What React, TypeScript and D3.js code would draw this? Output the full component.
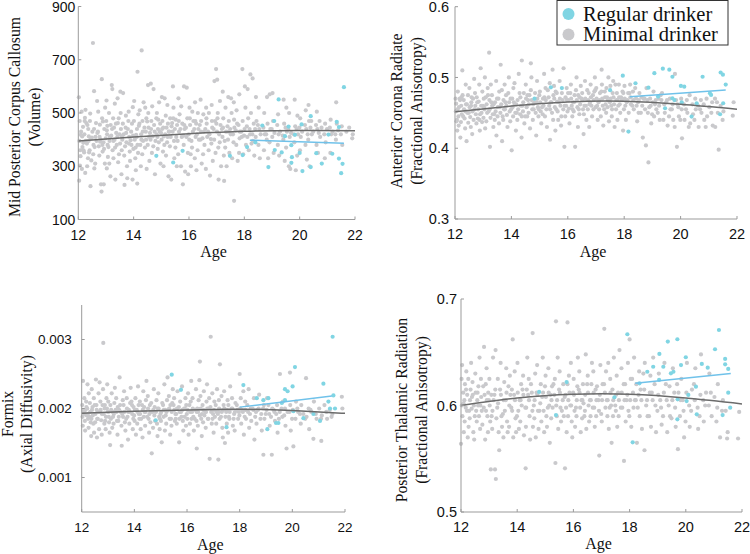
import React from 'react';
import * as d3 from 'd3';

type Pt = [number, number];

const AGE_TICKS = [12, 14, 16, 18, 20, 22];
const AGE_DOMAIN: Pt = [12, 22];

// ---------- Panel 1: Mid Posterior Corpus Callosum (Volume) ----------
const ccTicks = [100, 300, 500, 700, 900];
const ccMinimal: Pt[] = [
[12.02,559],[12.03,246],[12.05,470],[12.04,395],[12.08,338],[12.1,430],[12.06,302],[12.12,505],[12.14,412],[12.15,372],[12.17,448],[12.13,290],[12.19,360],[12.22,420],[12.24,482],[12.21,352],[12.25,275],[12.27,395],[12.26,512],[12.31,385],[12.33,455],[12.35,330],[12.32,300],[12.36,440],[12.38,412],[12.42,470],[12.41,360],[12.44,225],[12.46,405],[12.43,498],[12.47,322],[12.53,763],[12.51,430],[12.55,380],[12.57,582],[12.54,345],[12.58,292],[12.62,410],[12.64,462],[12.61,310],[12.66,395],[12.68,545],[12.72,505],[12.74,375],[12.71,430],[12.76,340],[12.78,456],[12.85,627],[12.82,232],[12.84,205],[12.81,400],[12.86,480],[12.88,355],[12.92,232],[12.94,440],[12.91,390],[12.96,310],[12.97,520],[12.93,365],[13.02,547],[13.04,420],[13.01,470],[13.06,380],[13.03,292],[13.07,335],[13.05,452],[13.12,310],[13.14,410],[13.11,500],[13.16,262],[13.13,395],[13.21,605],[13.23,590],[13.22,440],[13.24,360],[13.26,480],[13.27,330],[13.32,535],[13.31,400],[13.34,250],[13.36,460],[13.33,370],[13.37,425],[13.42,555],[13.44,315],[13.41,410],[13.46,480],[13.47,345],[13.52,580],[13.54,440],[13.51,385],[13.56,270],[13.53,500],[13.57,360],[13.62,575],[13.64,420],[13.66,340],[13.61,460],[13.67,230],[13.72,490],[13.74,390],[13.76,300],[13.71,445],[13.77,255],[13.82,505],[13.84,410],[13.86,355],[13.81,470],[13.87,320],[13.92,380],[13.94,460],[13.96,250],[13.91,430],[13.97,522],[14.02,545],[14.04,400],[14.06,330],[14.01,470],[14.07,370],[14.08,285],[14.14,655],[14.12,440],[14.16,350],[14.11,410],[14.17,495],[14.13,235],[14.22,510],[14.24,380],[14.21,460],[14.26,300],[14.27,420],[14.29,735],[14.32,470],[14.34,395],[14.31,345],[14.36,540],[14.42,520],[14.44,430],[14.41,370],[14.46,480],[14.47,290],[14.52,605],[14.54,445],[14.51,380],[14.56,410],[14.57,320],[14.53,500],[14.62,610],[14.64,470],[14.61,400],[14.66,350],[14.67,525],[14.72,590],[14.74,455],[14.71,375],[14.76,430],[14.77,270],[14.84,500],[14.86,410],[14.82,480],[14.87,365],[14.88,440],[14.92,540],[14.94,430],[14.91,390],[14.96,460],[14.97,310],[15.02,560],[15.04,470],[15.01,400],[15.06,355],[15.07,445],[15.08,300],[15.12,555],[15.14,420],[15.11,380],[15.16,490],[15.17,340],[15.22,530],[15.24,460],[15.21,390],[15.26,262],[15.27,430],[15.32,480],[15.34,410],[15.36,250],[15.31,375],[15.37,450],[15.42,600],[15.44,520],[15.41,430],[15.46,395],[15.47,330],[15.52,475],[15.54,410],[15.51,370],[15.56,300],[15.57,455],[15.62,555],[15.64,430],[15.61,345],[15.66,495],[15.72,525],[15.74,410],[15.71,300],[15.76,460],[15.78,232],[15.82,600],[15.84,440],[15.81,380],[15.86,280],[15.92,595],[15.94,480],[15.91,410],[15.96,350],[15.97,270],[16.02,520],[16.04,455],[16.01,400],[16.06,345],[16.07,300],[16.12,505],[16.14,430],[16.11,370],[16.16,470],[16.22,540],[16.24,410],[16.21,330],[16.26,460],[16.27,285],[16.32,500],[16.34,440],[16.31,360],[16.36,400],[16.42,550],[16.44,470],[16.41,400],[16.46,310],[16.52,495],[16.54,430],[16.51,345],[16.56,380],[16.62,520],[16.64,460],[16.61,290],[16.66,410],[16.98,665],[16.72,500],[16.74,420],[16.71,360],[16.76,265],[16.82,530],[16.84,445],[16.81,385],[16.86,320],[16.92,620],[16.94,470],[16.91,400],[16.96,350],[17.02,625],[17.04,500],[17.01,430],[17.06,370],[17.07,250],[17.12,545],[17.14,455],[17.11,390],[17.16,300],[17.22,580],[17.24,480],[17.21,410],[17.26,340],[17.27,245],[17.32,520],[17.34,430],[17.31,370],[17.36,300],[17.42,560],[17.44,470],[17.41,400],[17.46,350],[17.52,555],[17.54,500],[17.51,420],[17.56,330],[17.62,540],[17.64,445],[17.61,390],[17.63,170],[17.72,510],[17.74,460],[17.71,380],[17.76,320],[17.82,570],[17.84,430],[17.81,350],[17.93,665],[17.94,470],[17.91,410],[17.96,345],[18.02,600],[18.04,520],[18.01,440],[18.06,380],[18.12,590],[18.14,480],[18.11,410],[18.16,360],[18.22,645],[18.24,500],[18.21,420],[18.26,385],[18.3,630],[18.34,460],[18.31,395],[18.36,340],[18.42,560],[18.44,470],[18.41,410],[18.52,520],[18.54,440],[18.51,380],[18.56,330],[18.72,500],[18.74,420],[18.71,360],[18.82,560],[18.84,460],[18.81,400],[18.86,330],[18.92,570],[18.94,440],[18.91,390],[19.02,575],[19.04,470],[19.01,410],[19.06,350],[19.22,495],[19.24,420],[19.21,380],[19.26,340],[19.42,550],[19.44,460],[19.41,400],[19.46,320],[19.52,520],[19.54,430],[19.51,370],[19.62,500],[19.64,410],[19.61,300],[19.66,290],[19.82,550],[19.84,450],[19.81,390],[19.86,285],[19.92,490],[19.94,420],[19.91,340],[20.02,480],[20.04,410],[20.01,360],[20.22,510],[20.24,440],[20.21,380],[20.26,325],[20.32,530],[20.34,470],[20.31,400],[20.36,300],[20.42,470],[20.44,420],[20.62,505],[20.64,440],[20.61,380],[20.66,350],[20.72,470],[20.74,410],[20.92,460],[20.94,390],[20.91,330],[21.12,475],[21.14,420],[21.11,350],[21.32,540],[21.34,460],[21.31,400],[21.52,450],[21.54,380],[21.92,420],[21.9,405]
];
const ccMinimalDense: Pt[] = [
[12.09,418],[12.18,388],[12.29,462],[12.39,352],[12.49,408],[12.59,372],[12.69,425],[12.79,392],[12.89,468],[12.99,405],[13.09,372],[13.19,415],[13.29,445],[13.39,380],[13.49,420],[13.59,400],[13.69,375],[13.79,440],[13.89,398],[13.99,365],[14.09,418],[14.19,452],[14.28,400],[14.39,445],[14.49,468],[14.59,425],[14.69,412],[14.79,395],[14.89,475],[14.99,425],[15.09,412],[15.19,445],[15.29,430],[15.39,462],[15.49,440],[15.59,395],[15.69,440],[15.79,415],[15.89,445],[15.99,420],[16.09,395],[16.19,440],[16.29,420],[16.39,455],[16.49,405],[16.59,440],[16.69,430],[16.79,402],[16.89,440],[16.99,460],[17.09,420],[17.19,440],[17.29,395],[17.39,450],[17.49,440],[17.59,420],[17.69,435],[17.79,455],[17.89,430],[17.99,415],[18.09,450],[18.19,440],[18.29,420],[18.39,440],[18.49,455],[18.59,420],[18.69,445],[18.79,420],[18.99,440],[19.09,425],[19.19,455],[19.29,430],[19.39,415],[19.49,445],[19.59,440],[19.69,425],[19.79,420],[19.89,440],[19.99,445],[20.09,430],[20.19,455],[20.29,420],[20.39,445],[20.49,430],[20.59,455],[20.69,425],[20.79,445],[20.89,420],[20.99,440],[21.09,445],[21.19,430],[21.29,420],[21.39,435],[21.49,420],[21.69,430],[21.79,445],
[12.07,360],[12.23,470],[12.37,395],[12.57,440],[12.77,410],[12.87,380],[13.03,435],[13.17,455],[13.27,395],[13.43,462],[13.58,412],[13.73,425],[13.83,385],[13.98,415],[14.14,380],[14.33,430],[14.45,400],[14.63,440],[14.83,420],[15.03,440],[15.23,410],[15.43,480],[15.63,470],[15.83,455],[16.03,480],[16.23,470],[16.43,430],[16.63,480],[16.83,470],[17.03,480],[17.23,445],[17.43,430],[17.63,475],[17.83,405]
];
const ccRegular: Pt[] = [
[14.82,339],[15.43,314],[15.77,358],[17.48,339],[17.94,342],[18.1,372],[18.4,390],[18.65,453],[18.87,297],[19.08,470],[19.24,551],[19.1,361],[19.35,352],[19.47,413],[19.6,449],[19.7,379],[19.72,334],[19.7,313],[19.83,418],[20.0,350],[20.07,457],[20.1,282],[20.4,297],[20.4,488],[20.6,349],[20.8,310],[21.04,419],[21.18,347],[21.34,467],[21.42,447],[21.42,329],[21.55,309],[21.5,274],[21.6,597]
];
const ccFitMinimal: Pt[] = [[12,395],[14,410],[16,422],[18,431],[20,434],[22,433]];
const ccFitRegular: Pt[] = [[18.2,398],[21.6,386]];

// ---------- Panel 2: Anterior Corona Radiate (FA) ----------
const acrTicks = [0.3, 0.4, 0.5, 0.6];
const acrMinimal: Pt[] = [
[12.02,0.47],[12.03,0.452],[12.05,0.438],[12.04,0.463],[12.08,0.425],[12.1,0.48],[12.12,0.445],[12.14,0.458],[12.13,0.432],[12.17,0.47],[12.19,0.415],[12.22,0.46],[12.24,0.448],[12.26,0.51],[12.21,0.437],[12.27,0.475],[12.32,0.455],[12.34,0.442],[12.31,0.468],[12.36,0.428],[12.38,0.49],[12.42,0.462],[12.44,0.45],[12.41,0.41],[12.46,0.475],[12.47,0.436],[12.52,0.458],[12.54,0.444],[12.51,0.485],[12.56,0.43],[12.58,0.465],[12.62,0.452],[12.64,0.47],[12.61,0.42],[12.66,0.44],[12.68,0.498],[12.72,0.46],[12.74,0.448],[12.71,0.478],[12.76,0.435],[12.82,0.455],[12.84,0.466],[12.81,0.442],[12.86,0.49],[12.88,0.425],[12.91,0.513],[12.93,0.46],[12.94,0.45],[12.96,0.437],[12.97,0.48],[13.02,0.47],[13.04,0.455],[13.01,0.443],[13.06,0.5],[13.07,0.428],[13.12,0.462],[13.14,0.45],[13.11,0.438],[13.16,0.485],[13.21,0.535],[13.22,0.468],[13.24,0.402],[13.23,0.455],[13.26,0.443],[13.27,0.49],[13.32,0.46],[13.34,0.448],[13.31,0.475],[13.36,0.43],[13.42,0.465],[13.44,0.452],[13.41,0.44],[13.46,0.495],[13.47,0.418],[13.52,0.458],[13.54,0.47],[13.51,0.445],[13.56,0.435],[13.62,0.518],[13.64,0.462],[13.61,0.45],[13.66,0.482],[13.67,0.41],[13.72,0.468],[13.74,0.455],[13.71,0.44],[13.76,0.49],[13.82,0.46],[13.84,0.447],[13.81,0.475],[13.86,0.43],[13.92,0.465],[13.94,0.452],[13.91,0.5],[13.96,0.438],[14.01,0.397],[14.03,0.47],[14.04,0.458],[14.06,0.445],[14.07,0.485],[14.12,0.462],[14.14,0.45],[14.11,0.492],[14.16,0.425],[14.22,0.468],[14.24,0.455],[14.21,0.44],[14.26,0.505],[14.32,0.472],[14.34,0.46],[14.31,0.448],[14.37,0.524],[14.36,0.415],[14.42,0.465],[14.44,0.478],[14.41,0.452],[14.46,0.435],[14.52,0.47],[14.54,0.458],[14.51,0.49],[14.56,0.445],[14.62,0.462],[14.64,0.475],[14.61,0.45],[14.69,0.52],[14.66,0.428],[14.72,0.468],[14.74,0.455],[14.71,0.5],[14.76,0.44],[14.82,0.465],[14.84,0.478],[14.86,0.45],[14.88,0.418],[14.92,0.47],[14.94,0.458],[14.91,0.495],[14.96,0.445],[15.02,0.465],[15.04,0.452],[15.01,0.48],[15.06,0.435],[15.12,0.47],[15.14,0.46],[15.11,0.448],[15.16,0.505],[15.22,0.468],[15.24,0.455],[15.21,0.485],[15.26,0.43],[15.32,0.472],[15.34,0.46],[15.37,0.412],[15.36,0.492],[15.46,0.511],[15.42,0.465],[15.44,0.45],[15.48,0.44],[15.52,0.47],[15.54,0.458],[15.51,0.488],[15.56,0.425],[15.62,0.466],[15.64,0.452],[15.61,0.478],[15.66,0.44],[15.72,0.47],[15.74,0.46],[15.71,0.495],[15.76,0.432],[15.85,0.513],[15.82,0.468],[15.88,0.402],[15.84,0.455],[15.92,0.472],[15.94,0.46],[15.91,0.445],[15.96,0.485],[16.02,0.468],[16.04,0.456],[16.01,0.478],[16.06,0.435],[16.12,0.47],[16.14,0.46],[16.11,0.49],[16.16,0.445],[16.22,0.465],[16.24,0.475],[16.26,0.402],[16.21,0.452],[16.32,0.468],[16.34,0.458],[16.31,0.5],[16.36,0.43],[16.42,0.472],[16.44,0.462],[16.41,0.448],[16.46,0.488],[16.52,0.468],[16.54,0.455],[16.51,0.478],[16.56,0.42],[16.62,0.47],[16.64,0.46],[16.61,0.495],[16.66,0.44],[16.72,0.468],[16.74,0.478],[16.71,0.455],[16.76,0.43],[16.82,0.472],[16.84,0.46],[16.81,0.49],[16.86,0.445],[16.92,0.468],[16.94,0.48],[16.91,0.455],[16.96,0.5],[17.02,0.47],[17.04,0.46],[17.01,0.485],[17.06,0.44],[17.12,0.468],[17.14,0.478],[17.11,0.455],[17.2,0.511],[17.22,0.47],[17.24,0.46],[17.21,0.49],[17.26,0.432],[17.32,0.472],[17.34,0.462],[17.31,0.48],[17.36,0.45],[17.42,0.468],[17.44,0.5],[17.41,0.458],[17.46,0.438],[17.52,0.47],[17.54,0.46],[17.51,0.488],[17.56,0.445],[17.62,0.472],[17.64,0.462],[17.61,0.495],[17.66,0.43],[17.72,0.468],[17.74,0.478],[17.71,0.455],[17.76,0.44],[17.82,0.472],[17.84,0.462],[17.81,0.49],[17.86,0.45],[17.92,0.468],[17.94,0.48],[17.96,0.425],[18.02,0.47],[18.04,0.46],[18.01,0.488],[18.06,0.44],[18.12,0.468],[18.14,0.478],[18.16,0.45],[18.22,0.472],[18.24,0.462],[18.21,0.49],[18.32,0.468],[18.34,0.455],[18.31,0.48],[18.42,0.47],[18.44,0.46],[18.46,0.438],[18.52,0.468],[18.54,0.478],[18.51,0.45],[18.62,0.472],[18.64,0.46],[18.66,0.415],[18.72,0.47],[18.74,0.455],[18.77,0.404],[18.86,0.38],[18.82,0.468],[18.84,0.45],[18.92,0.47],[18.94,0.46],[18.96,0.435],[19.02,0.465],[19.04,0.48],[19.06,0.445],[19.12,0.468],[19.14,0.455],[19.22,0.47],[19.24,0.46],[19.26,0.44],[19.32,0.468],[19.34,0.478],[19.42,0.462],[19.44,0.45],[19.52,0.468],[19.54,0.432],[19.62,0.47],[19.64,0.455],[19.72,0.462],[19.74,0.44],[19.8,0.505],[19.87,0.402],[19.84,0.468],[19.92,0.458],[19.94,0.445],[20.05,0.414],[20.02,0.47],[20.04,0.455],[20.12,0.462],[20.14,0.44],[20.22,0.468],[20.24,0.45],[20.32,0.475],[20.34,0.435],[20.42,0.462],[20.44,0.448],[20.52,0.47],[20.54,0.455],[20.62,0.46],[20.64,0.43],[20.72,0.468],[20.74,0.45],[20.82,0.462],[20.84,0.44],[20.92,0.47],[20.94,0.445],[21.02,0.458],[21.12,0.465],[21.14,0.432],[21.23,0.43],[21.22,0.47],[21.32,0.45],[21.35,0.398],[21.42,0.46],[21.52,0.452],[21.85,0.446],[21.88,0.465]
];
const acrMinimalDense: Pt[] = [
[12.09,0.455],[12.18,0.468],[12.29,0.445],[12.39,0.462],[12.49,0.45],[12.59,0.472],[12.69,0.455],[12.79,0.465],[12.89,0.448],[12.99,0.46],[13.09,0.472],[13.19,0.452],[13.29,0.465],[13.39,0.448],[13.49,0.47],[13.59,0.458],[13.69,0.445],[13.79,0.465],[13.89,0.478],[13.99,0.455],[14.09,0.465],[14.19,0.45],[14.29,0.478],[14.39,0.46],[14.49,0.445],[14.59,0.468],[14.69,0.482],[14.79,0.455],[14.89,0.465],[14.99,0.475],[15.09,0.458],[15.19,0.445],[15.29,0.482],[15.39,0.465],[15.49,0.475],[15.59,0.455],[15.69,0.465],[15.79,0.478],[15.89,0.46],[15.99,0.452],[16.09,0.478],[16.19,0.465],[16.29,0.482],[16.39,0.455],[16.49,0.47],[16.59,0.46],[16.69,0.482],[16.79,0.465],[16.89,0.475],[16.99,0.458],[17.09,0.465],[17.19,0.48],[17.29,0.455],[17.39,0.472],[17.49,0.465],[17.59,0.478],[17.69,0.49],[17.79,0.46],[17.89,0.472],[17.99,0.455],[18.09,0.465],[18.19,0.478],[18.29,0.46],[18.39,0.485],[18.49,0.465],[18.59,0.45],[18.69,0.47],[18.79,0.485],[18.89,0.458],[18.99,0.448],[19.09,0.462],[19.19,0.45],[19.29,0.475],[19.39,0.44],[19.49,0.465],[19.59,0.445],[19.69,0.455],[19.79,0.43],[19.89,0.462],[19.99,0.44],[20.19,0.455],[20.29,0.43],[20.49,0.44],[20.69,0.455],[20.89,0.43],[21.09,0.45],[21.29,0.465],[21.49,0.44],
[12.07,0.44],[12.23,0.472],[12.37,0.452],[12.57,0.46],[12.77,0.472],[12.87,0.44],[13.03,0.458],[13.17,0.475],[13.37,0.462],[13.57,0.48],[13.77,0.455],[13.97,0.47],[14.17,0.462],[14.37,0.445],[14.57,0.475],[14.77,0.462],[14.97,0.455],[15.17,0.472],[15.37,0.455],[15.57,0.48],[15.77,0.445],[15.97,0.468],[16.17,0.455],[16.37,0.475],[16.57,0.448],[16.77,0.462],[16.97,0.482],[17.17,0.445],[17.37,0.485],[17.57,0.455],[17.77,0.468],[17.97,0.478]
];
const acrRegular: Pt[] = [
[14.82,0.47],[15.4,0.486],[15.79,0.485],[17.5,0.482],[17.95,0.5026],[18.15,0.4235],[18.4,0.4918],[18.86,0.4856],[19.07,0.506],[19.37,0.5124],[19.6,0.511],[19.71,0.501],[20.01,0.488],[20.13,0.487],[20.78,0.501],[21.42,0.507],[21.5,0.504],[21.6,0.49],[21.51,0.4636],[21.4,0.448],[20.39,0.4447],[19.71,0.4706],[19.78,0.468],[20.04,0.465],[20.57,0.4636],[21.04,0.4777],[21.08,0.4753],[19.45,0.4565],[19.2,0.473]
];
const acrFitMinimal: Pt[] = [[12,0.4517],[14,0.4596],[16,0.4653],[18,0.4663],[20,0.462],[22,0.455]];
const acrFitRegular: Pt[] = [[18.2,0.4728],[21.6,0.4822]];

// ---------- Panel 3: Formix (Axial Diffusivity) ----------
const fxTicks = [0.001, 0.002, 0.003];
const fxMinimal: Pt[] = [
[12.02,0.00205],[12.03,0.00188],[12.05,0.0024],[12.04,0.00175],[12.08,0.00195],[12.1,0.00215],[12.12,0.00182],[12.14,0.00198],[12.13,0.00168],[12.17,0.0021],[12.19,0.0019],[12.22,0.00235],[12.24,0.00185],[12.21,0.002],[12.26,0.00172],[12.27,0.00222],[12.32,0.00195],[12.34,0.0018],[12.31,0.00208],[12.36,0.0016],[12.38,0.00228],[12.42,0.0019],[12.44,0.00178],[12.41,0.00202],[12.46,0.00215],[12.47,0.00165],[12.52,0.00192],[12.54,0.00242],[12.51,0.0018],[12.56,0.00205],[12.58,0.00158],[12.62,0.00195],[12.64,0.00222],[12.61,0.00185],[12.66,0.0017],[12.68,0.00238],[12.72,0.00198],[12.74,0.00183],[12.71,0.0021],[12.76,0.00162],[12.82,0.00295],[12.84,0.00192],[12.81,0.00228],[12.86,0.00178],[12.88,0.00205],[12.92,0.00188],[12.94,0.00215],[12.91,0.0017],[12.96,0.002],[12.97,0.00235],[13.02,0.00195],[13.04,0.0018],[13.01,0.0021],[13.06,0.00165],[13.08,0.00147],[13.12,0.00198],[13.14,0.00222],[13.11,0.00185],[13.16,0.00172],[13.22,0.00192],[13.24,0.00208],[13.21,0.00178],[13.26,0.0023],[13.32,0.00195],[13.34,0.00182],[13.31,0.00215],[13.36,0.00162],[13.42,0.00198],[13.44,0.00245],[13.41,0.00188],[13.46,0.00205],[13.52,0.00146],[13.54,0.00192],[13.51,0.00175],[13.56,0.00212],[13.62,0.00195],[13.64,0.0018],[13.61,0.00225],[13.66,0.00168],[13.72,0.002],[13.74,0.00188],[13.71,0.00215],[13.76,0.00155],[13.82,0.00195],[13.84,0.00208],[13.81,0.00178],[13.86,0.0023],[13.92,0.00192],[13.94,0.0017],[13.91,0.00205],[13.96,0.00185],[14.02,0.00198],[14.04,0.00215],[14.01,0.00182],[14.06,0.00162],[14.12,0.00195],[14.14,0.00232],[14.11,0.00178],[14.16,0.00205],[14.22,0.00192],[14.24,0.0017],[14.21,0.0021],[14.26,0.00185],[14.32,0.00198],[14.34,0.00225],[14.31,0.00158],[14.36,0.00188],[14.42,0.00195],[14.44,0.00212],[14.41,0.00175],[14.46,0.0024],[14.52,0.002],[14.54,0.00185],[14.51,0.00218],[14.56,0.00165],[14.66,0.00135],[14.62,0.00195],[14.64,0.00208],[14.61,0.0018],[14.72,0.00198],[14.74,0.00228],[14.71,0.00172],[14.76,0.0019],[14.82,0.00195],[14.84,0.00212],[14.86,0.00178],[14.88,0.0016],[14.92,0.002],[14.94,0.00188],[14.91,0.00222],[14.96,0.0017],[15.04,0.00151],[15.02,0.00195],[15.06,0.00208],[15.01,0.00182],[15.12,0.00198],[15.14,0.00235],[15.11,0.00188],[15.16,0.00168],[15.22,0.00195],[15.24,0.00212],[15.21,0.00178],[15.26,0.00245],[15.32,0.002],[15.34,0.00185],[15.31,0.00218],[15.36,0.00162],[15.42,0.00195],[15.44,0.00208],[15.41,0.00175],[15.46,0.00228],[15.52,0.00198],[15.54,0.00182],[15.51,0.00215],[15.56,0.00192],[15.62,0.002],[15.64,0.00225],[15.61,0.00178],[15.7,0.00151],[15.72,0.00195],[15.74,0.0021],[15.71,0.00185],[15.82,0.00198],[15.84,0.00182],[15.81,0.00232],[15.86,0.00168],[15.92,0.002],[15.94,0.00215],[15.91,0.00188],[15.96,0.00175],[16.02,0.00198],[16.04,0.00222],[16.01,0.00185],[16.06,0.00162],[16.12,0.00195],[16.14,0.0021],[16.11,0.00178],[16.16,0.0024],[16.22,0.002],[16.24,0.00188],[16.21,0.00215],[16.26,0.00168],[16.32,0.00198],[16.34,0.00228],[16.37,0.00142],[16.36,0.00182],[16.42,0.00195],[16.44,0.00212],[16.41,0.00175],[16.49,0.00268],[16.47,0.00241],[16.52,0.002],[16.54,0.00185],[16.51,0.00218],[16.56,0.0016],[16.62,0.00198],[16.64,0.00225],[16.61,0.0018],[16.66,0.0019],[16.72,0.00195],[16.74,0.0021],[16.71,0.00172],[16.76,0.00235],[16.82,0.002],[16.86,0.00127],[16.81,0.00185],[16.84,0.00215],[16.9,0.00304],[16.92,0.00195],[16.94,0.00178],[16.96,0.00222],[17.02,0.00198],[17.04,0.0021],[17.01,0.00165],[17.06,0.00188],[17.12,0.00195],[17.14,0.00228],[17.11,0.00178],[17.19,0.00126],[17.25,0.00264],[17.22,0.002],[17.24,0.00185],[17.21,0.00212],[17.32,0.00195],[17.34,0.00172],[17.31,0.00218],[17.36,0.00158],[17.44,0.0015],[17.42,0.002],[17.46,0.00188],[17.41,0.00225],[17.52,0.00198],[17.54,0.00212],[17.51,0.00178],[17.56,0.00165],[17.62,0.00195],[17.64,0.00232],[17.61,0.00185],[17.72,0.002],[17.74,0.00175],[17.71,0.00215],[17.82,0.00195],[17.84,0.00208],[17.81,0.00168],[17.92,0.00198],[17.94,0.00185],[18.0,0.0025],[18.02,0.002],[18.04,0.00215],[18.06,0.00178],[18.12,0.00195],[18.14,0.00225],[18.16,0.00162],[18.22,0.00198],[18.24,0.00185],[18.21,0.0021],[18.32,0.00195],[18.34,0.00228],[18.36,0.00172],[18.42,0.002],[18.44,0.00182],[18.52,0.00198],[18.54,0.00215],[18.56,0.00155],[18.62,0.00195],[18.64,0.00178],[18.72,0.002],[18.74,0.0022],[18.82,0.00192],[18.84,0.00168],[18.9,0.00133],[18.92,0.00205],[18.94,0.00185],[19.02,0.00198],[19.04,0.00215],[19.12,0.00192],[19.14,0.00175],[19.22,0.00133],[19.24,0.002],[19.32,0.00195],[19.34,0.00182],[19.42,0.00205],[19.44,0.00165],[19.53,0.0025],[19.52,0.00195],[19.62,0.00188],[19.64,0.0021],[19.72,0.002],[19.78,0.00142],[19.74,0.00175],[19.82,0.00195],[19.91,0.00252],[19.92,0.00205],[19.94,0.00168],[20.04,0.00145],[20.02,0.00198],[20.12,0.00185],[20.14,0.0021],[20.22,0.00195],[20.32,0.00178],[20.34,0.00205],[20.42,0.00192],[20.52,0.00244],[20.54,0.00188],[20.62,0.002],[20.64,0.0017],[20.72,0.00195],[20.8,0.00156],[20.82,0.0021],[20.92,0.00185],[21.02,0.002],[21.1,0.00153],[21.12,0.0019],[21.22,0.00205],[21.32,0.00185],[21.42,0.00198],[21.52,0.00192],[21.88,0.00217],[21.9,0.002]
];
const fxMinimalDense: Pt[] = [
[12.09,0.00192],[12.18,0.00202],[12.29,0.00188],[12.39,0.00198],[12.49,0.00205],[12.59,0.00185],[12.69,0.00195],[12.79,0.00205],[12.89,0.00182],[12.99,0.00195],[13.09,0.00205],[13.19,0.00188],[13.29,0.00198],[13.39,0.00182],[13.49,0.00195],[13.59,0.00205],[13.69,0.00185],[13.79,0.00198],[13.89,0.0021],[13.99,0.0019],[14.09,0.00198],[14.19,0.00185],[14.29,0.00205],[14.39,0.00195],[14.49,0.00188],[14.59,0.00205],[14.69,0.00195],[14.79,0.00182],[14.89,0.002],[14.99,0.00192],[15.09,0.00205],[15.19,0.0019],[15.29,0.00198],[15.39,0.00185],[15.49,0.00205],[15.59,0.00192],[15.69,0.00202],[15.79,0.00188],[15.89,0.002],[15.99,0.00192],[16.09,0.00205],[16.19,0.00195],[16.29,0.00185],[16.39,0.002],[16.49,0.0019],[16.59,0.00205],[16.69,0.00195],[16.79,0.00185],[16.89,0.00202],[16.99,0.00192],[17.09,0.00205],[17.19,0.00195],[17.29,0.00188],[17.39,0.00205],[17.49,0.00195],[17.59,0.00188],[17.69,0.002],[17.79,0.00192],[17.89,0.00205],[17.99,0.0019],[18.09,0.00198],[18.19,0.00188],[18.29,0.00205],[18.39,0.00192],[18.49,0.002],[18.59,0.00188],[18.69,0.00198],[18.79,0.00185],[18.89,0.002],[18.99,0.00192],[19.09,0.00205],[19.19,0.00188],[19.29,0.00198],[19.39,0.00192],[19.49,0.00185],[19.59,0.002],[19.69,0.0019],[19.89,0.00195],[19.99,0.00185],[20.19,0.002],[20.29,0.00192],[20.49,0.00185],[20.69,0.00198],[20.89,0.00192],[21.09,0.00185],[21.29,0.00195],[21.49,0.00188],
[12.07,0.00198],[12.23,0.00192],[12.37,0.00185],[12.57,0.00198],[12.77,0.00192],[12.87,0.002],[13.03,0.00188],[13.17,0.00195],[13.37,0.00202],[13.57,0.00188],[13.77,0.00195],[13.97,0.00202],[14.17,0.00192],[14.37,0.00202],[14.57,0.00192],[14.77,0.00202],[14.97,0.00185],[15.17,0.00198],[15.37,0.00205],[15.57,0.00185],[15.77,0.00195],[15.97,0.00205],[16.17,0.00185],[16.37,0.00195],[16.57,0.00192],[16.77,0.002],[16.97,0.00185],[17.17,0.00192],[17.37,0.00198],[17.57,0.00205],[17.77,0.00185],[17.97,0.00195]
];
const fxRegular: Pt[] = [
[14.81,0.00183],[15.42,0.00249],[15.77,0.00227],[17.5,0.00173],[18.14,0.00234],[18.65,0.00215],[18.9,0.00212],[19.09,0.00215],[19.05,0.0017],[19.38,0.00179],[19.47,0.00179],[19.6,0.00208],[19.72,0.00212],[19.72,0.00228],[19.82,0.00225],[20.01,0.00232],[20.04,0.00196],[20.1,0.0026],[20.42,0.00186],[20.8,0.00192],[21.05,0.00182],[21.18,0.00236],[21.37,0.0021],[21.43,0.002],[21.53,0.00304],[21.56,0.00219],[21.62,0.002]
];
const fxFitMinimal: Pt[] = [[12,0.00193],[14,0.00196],[16,0.00198],[18,0.00199],[20,0.00197],[22,0.00193]];
const fxFitRegular: Pt[] = [[18,0.00202],[21.5,0.00218]];

// ---------- Panel 4: Posterior Thalamic Radiation (FA) ----------
const ptrTicks = [0.5, 0.6, 0.7];
const ptrMinimal: Pt[] = [
[12.0,0.564],[12.02,0.625],[12.03,0.6],[12.05,0.59],[12.04,0.638],[12.08,0.612],[12.1,0.575],[12.12,0.605],[12.14,0.62],[12.13,0.585],[12.17,0.598],[12.19,0.632],[12.22,0.61],[12.24,0.57],[12.21,0.595],[12.26,0.625],[12.27,0.58],[12.32,0.605],[12.34,0.615],[12.31,0.588],[12.36,0.64],[12.38,0.597],[12.42,0.61],[12.44,0.575],[12.41,0.622],[12.46,0.6],[12.47,0.568],[12.52,0.612],[12.54,0.595],[12.51,0.63],[12.56,0.585],[12.58,0.605],[12.62,0.618],[12.64,0.59],[12.61,0.6],[12.66,0.645],[12.68,0.578],[12.72,0.608],[12.74,0.595],[12.71,0.625],[12.76,0.582],[12.82,0.655],[12.84,0.61],[12.81,0.598],[12.86,0.568],[12.88,0.62],[12.92,0.605],[12.94,0.59],[12.91,0.635],[12.96,0.575],[12.97,0.612],[13.02,0.6],[13.04,0.585],[13.01,0.625],[13.06,0.54],[13.08,0.61],[13.12,0.595],[13.14,0.645],[13.11,0.578],[13.16,0.605],[13.21,0.54],[13.24,0.531],[13.22,0.615],[13.26,0.588],[13.23,0.652],[13.32,0.602],[13.34,0.575],[13.31,0.625],[13.36,0.558],[13.42,0.61],[13.44,0.59],[13.41,0.64],[13.46,0.58],[13.52,0.605],[13.54,0.622],[13.51,0.57],[13.56,0.595],[13.62,0.612],[13.64,0.585],[13.61,0.635],[13.66,0.575],[13.72,0.6],[13.74,0.628],[13.71,0.58],[13.76,0.61],[13.84,0.662],[13.82,0.595],[13.86,0.57],[13.81,0.615],[13.92,0.605],[13.94,0.588],[13.91,0.632],[13.96,0.575],[14.02,0.612],[14.04,0.595],[14.01,0.64],[14.06,0.578],[14.12,0.605],[14.14,0.62],[14.11,0.585],[14.16,0.6],[14.22,0.61],[14.24,0.572],[14.21,0.628],[14.3,0.541],[14.32,0.598],[14.34,0.615],[14.31,0.58],[14.36,0.645],[14.42,0.605],[14.44,0.59],[14.41,0.625],[14.46,0.568],[14.55,0.668],[14.52,0.612],[14.54,0.595],[14.56,0.58],[14.62,0.605],[14.64,0.63],[14.61,0.588],[14.66,0.57],[14.72,0.61],[14.74,0.595],[14.71,0.638],[14.76,0.578],[14.82,0.602],[14.84,0.62],[14.86,0.585],[14.92,0.612],[14.94,0.595],[14.91,0.645],[14.96,0.575],[15.02,0.608],[15.04,0.59],[15.01,0.628],[15.06,0.58],[15.12,0.612],[15.14,0.6],[15.11,0.635],[15.16,0.565],[15.22,0.605],[15.24,0.618],[15.21,0.588],[15.26,0.598],[15.32,0.61],[15.34,0.625],[15.38,0.679],[15.36,0.546],[15.42,0.605],[15.44,0.645],[15.41,0.59],[15.46,0.578],[15.52,0.612],[15.54,0.598],[15.51,0.632],[15.56,0.585],[15.62,0.605],[15.64,0.62],[15.7,0.541],[15.66,0.59],[15.72,0.61],[15.74,0.598],[15.79,0.678],[15.76,0.575],[15.82,0.605],[15.84,0.628],[15.81,0.59],[15.86,0.612],[15.92,0.6],[15.94,0.585],[15.91,0.64],[15.96,0.57],[16.02,0.61],[16.04,0.595],[16.01,0.625],[16.06,0.58],[16.12,0.605],[16.14,0.618],[16.11,0.59],[16.16,0.645],[16.22,0.612],[16.24,0.598],[16.21,0.632],[16.26,0.575],[16.32,0.605],[16.34,0.62],[16.31,0.588],[16.36,0.602],[16.42,0.61],[16.44,0.648],[16.41,0.595],[16.46,0.578],[16.52,0.612],[16.54,0.6],[16.51,0.628],[16.56,0.585],[16.62,0.605],[16.64,0.62],[16.61,0.59],[16.66,0.64],[16.72,0.612],[16.74,0.598],[16.71,0.632],[16.76,0.58],[16.82,0.605],[16.84,0.618],[16.81,0.59],[16.92,0.553],[16.94,0.61],[16.96,0.638],[16.91,0.595],[17.02,0.605],[17.04,0.62],[17.01,0.585],[17.1,0.672],[17.12,0.612],[17.14,0.598],[17.16,0.632],[17.22,0.605],[17.24,0.64],[17.21,0.59],[17.26,0.578],[17.32,0.612],[17.34,0.6],[17.31,0.625],[17.36,0.565],[17.42,0.605],[17.44,0.645],[17.41,0.59],[17.52,0.61],[17.54,0.628],[17.51,0.595],[17.56,0.58],[17.62,0.605],[17.64,0.652],[17.61,0.59],[17.72,0.612],[17.74,0.598],[17.71,0.635],[17.8,0.548],[17.82,0.605],[17.84,0.62],[17.86,0.585],[17.92,0.61],[17.94,0.64],[17.96,0.595],[18.0,0.662],[18.02,0.605],[18.04,0.625],[18.06,0.58],[18.12,0.612],[18.14,0.598],[18.16,0.645],[18.22,0.605],[18.24,0.62],[18.26,0.565],[18.32,0.61],[18.34,0.632],[18.36,0.59],[18.42,0.605],[18.44,0.578],[18.53,0.558],[18.52,0.615],[18.54,0.64],[18.62,0.605],[18.64,0.59],[18.72,0.612],[18.74,0.628],[18.76,0.58],[18.82,0.605],[18.84,0.645],[18.92,0.6],[18.94,0.575],[19.02,0.61],[19.04,0.63],[19.12,0.598],[19.14,0.582],[19.22,0.612],[19.24,0.64],[19.32,0.605],[19.34,0.575],[19.42,0.618],[19.44,0.59],[19.52,0.605],[19.54,0.635],[19.62,0.598],[19.64,0.58],[19.72,0.559],[19.74,0.612],[19.82,0.605],[19.84,0.625],[19.92,0.595],[19.94,0.57],[20.02,0.612],[20.04,0.64],[20.12,0.6],[20.14,0.58],[20.22,0.615],[20.32,0.605],[20.34,0.635],[20.42,0.598],[20.44,0.578],[20.52,0.61],[20.54,0.648],[20.62,0.605],[20.64,0.585],[20.72,0.612],[20.82,0.6],[20.84,0.63],[20.92,0.59],[21.02,0.608],[21.12,0.598],[21.14,0.62],[21.22,0.57],[21.32,0.605],[21.47,0.569],[21.42,0.595],[21.86,0.569],[21.9,0.594]
];
const ptrMinimalDense: Pt[] = [
[12.09,0.602],[12.18,0.615],[12.29,0.595],[12.39,0.608],[12.49,0.59],[12.59,0.612],[12.69,0.6],[12.79,0.618],[12.89,0.595],[12.99,0.605],[13.09,0.59],[13.19,0.61],[13.29,0.598],[13.39,0.615],[13.49,0.592],[13.59,0.605],[13.69,0.618],[13.79,0.598],[13.89,0.61],[13.99,0.59],[14.09,0.605],[14.19,0.615],[14.29,0.598],[14.39,0.61],[14.49,0.62],[14.59,0.6],[14.69,0.612],[14.79,0.595],[14.89,0.608],[14.99,0.618],[15.09,0.598],[15.19,0.61],[15.29,0.62],[15.39,0.6],[15.49,0.615],[15.59,0.595],[15.69,0.608],[15.79,0.62],[15.89,0.6],[15.99,0.612],[16.09,0.598],[16.19,0.615],[16.29,0.605],[16.39,0.59],[16.49,0.62],[16.59,0.605],[16.69,0.598],[16.79,0.615],[16.89,0.605],[16.99,0.592],[17.09,0.62],[17.19,0.605],[17.29,0.598],[17.39,0.615],[17.49,0.6],[17.59,0.612],[17.69,0.598],[17.79,0.62],[17.89,0.605],[17.99,0.59],[18.09,0.625],[18.19,0.605],[18.29,0.598],[18.39,0.615],[18.49,0.63],[18.59,0.6],[18.69,0.59],[18.79,0.612],[18.89,0.62],[18.99,0.595],[19.09,0.605],[19.19,0.59],[19.29,0.62],[19.39,0.6],[19.49,0.588],[19.59,0.612],[19.69,0.62],[19.79,0.59],[19.89,0.605],[19.99,0.585],[20.19,0.595],[20.29,0.62],[20.49,0.59],[20.69,0.6],[20.89,0.612],[21.09,0.585],[21.29,0.595],[21.49,0.575]
];
const ptrRegular: Pt[] = [
[14.78,0.6127],[15.38,0.591],[15.76,0.622],[17.46,0.6077],[17.92,0.6669],[18.11,0.5654],[18.35,0.6208],[18.63,0.6317],[18.84,0.6364],[19.05,0.624],[19.06,0.6484],[19.2,0.6364],[19.36,0.66],[19.47,0.6302],[19.56,0.6317],[19.7,0.6622],[19.71,0.6058],[19.7,0.587],[19.83,0.638],[20.0,0.6453],[20.03,0.6042],[20.09,0.6099],[20.36,0.6177],[20.39,0.5917],[20.57,0.639],[20.78,0.6355],[21.04,0.6528],[21.18,0.6709],[21.31,0.591],[21.4,0.6437],[21.4,0.6387],[21.51,0.6343],[21.51,0.612],[21.58,0.598]
];
const ptrFitMinimal: Pt[] = [[12,0.6],[14,0.607],[16,0.6105],[18,0.6105],[20,0.607],[22,0.6015]];
const ptrFitRegular: Pt[] = [[18.2,0.621],[21.6,0.63]];

// ---------- styling ----------
const GRAY_PT = '#c9c9cc';
const BLUE_PT = '#80d5e3';
const GRAY_FIT = '#6b6b6b';
const BLUE_FIT = '#70c2ea';
const AXIS = '#9b9b9b';
const SANS = '"Liberation Sans", Arial, Helvetica, sans-serif';
const SERIF = '"Liberation Serif", "Times New Roman", serif';
const DOT_R = 2.1;

interface PanelCfg {
  left: number; right: number; top: number; bottom: number;
  yDomain: [number, number]; yTicks: number[]; fmt: (v: number) => string;
  tickSize: number; tickGap: number;
  minimal: Pt[]; regular: Pt[]; fitMin: Pt[]; fitReg: Pt[];
  lines: string[]; lineX: number[]; labelCy: number;
  ageBaseline: number;
}

const fmtInt = (v: number) => d3.format('d')(v);
const fmt1 = (v: number) => d3.format('.1f')(v);
const fmt3 = (v: number) => d3.format('.3f')(v);

const panels: PanelCfg[] = [
  { left: 78.3, right: 355, top: 6.5, bottom: 219.5, yDomain: [100, 900], yTicks: ccTicks, fmt: fmtInt,
    tickSize: 14, tickGap: 3, minimal: [...ccMinimal, ...ccMinimalDense], regular: ccRegular, fitMin: ccFitMinimal, fitReg: ccFitRegular,
    lines: ['Mid Posterior Corpus Callosum', '(Volume)'], lineX: [19.5, 39.5], labelCy: 117, ageBaseline: 257 },
  { left: 455, right: 737, top: 6.7, bottom: 219, yDomain: [0.3, 0.6], yTicks: acrTicks, fmt: fmt1,
    tickSize: 14.5, tickGap: 6, minimal: [...acrMinimal, ...acrMinimalDense], regular: acrRegular, fitMin: acrFitMinimal, fitReg: acrFitRegular,
    lines: ['Anterior Corona Radiate', '(Fractional Anisotropy)'], lineX: [402, 422], labelCy: 111, ageBaseline: 257 },
  { left: 81.7, right: 345, top: 305, bottom: 512, yDomain: [0.0005, 0.0035], yTicks: fxTicks, fmt: fmt3,
    tickSize: 13.5, tickGap: 10, minimal: [...fxMinimal, ...fxMinimalDense], regular: fxRegular, fitMin: fxFitMinimal, fitReg: fxFitRegular,
    lines: ['Formix', '(Axial Diffusivity)'], lineX: [12.8, 31.5], labelCy: 414, ageBaseline: 550 },
  { left: 461, right: 742, top: 299, bottom: 512, yDomain: [0.5, 0.7], yTicks: ptrTicks, fmt: fmt1,
    tickSize: 14.5, tickGap: 4, minimal: [...ptrMinimal, ...ptrMinimalDense], regular: ptrRegular, fitMin: ptrFitMinimal, fitReg: ptrFitRegular,
    lines: ['Posterior Thalamic Radiation', '(Fractional Anisotropy)'], lineX: [406.5, 427], labelCy: 410, ageBaseline: 549 },
];

function Panel({ c }: { c: PanelCfg }) {
  const x = d3.scaleLinear().domain(AGE_DOMAIN).range([c.left, c.right]);
  const y = d3.scaleLinear().domain(c.yDomain).range([c.bottom, c.top]);
  const line = d3.line<Pt>().x(d => x(d[0])).y(d => y(d[1])).curve(d3.curveNatural);
  const midX = (c.left + c.right) / 2;
  return (
    <g>
      {c.minimal.map((d, i) => (
        <circle key={'m' + i} cx={x(d[0])} cy={y(d[1])} r={DOT_R} fill={GRAY_PT} />
      ))}
      {c.regular.map((d, i) => (
        <circle key={'r' + i} cx={x(d[0])} cy={y(d[1])} r={DOT_R} fill={BLUE_PT} />
      ))}
      <path d={line(c.fitMin) || ''} fill="none" stroke={GRAY_FIT} strokeWidth={1.5} />
      <path d={line(c.fitReg) || ''} fill="none" stroke={BLUE_FIT} strokeWidth={1.5} />
      <line x1={c.left} x2={c.left} y1={c.top} y2={c.bottom} stroke={AXIS} strokeWidth={1} />
      <line x1={c.left} x2={c.right} y1={c.bottom} y2={c.bottom} stroke={AXIS} strokeWidth={1} />
      {AGE_TICKS.map(t => (
        <g key={'xt' + t}>
          <line x1={x(t)} x2={x(t)} y1={c.bottom} y2={c.bottom - 3} stroke={AXIS} />
          <text x={x(t)} y={c.bottom + 20} textAnchor="middle" fontFamily={SANS} fontSize={c.tickSize} fill="#111">{t}</text>
        </g>
      ))}
      {c.yTicks.map(t => (
        <g key={'yt' + t}>
          <line x1={c.left} x2={c.left + 3} y1={y(t)} y2={y(t)} stroke={AXIS} />
          <text x={c.left - c.tickGap} y={y(t)} dy="0.36em" textAnchor="end" fontFamily={SANS} fontSize={c.tickSize} fill="#111">{c.fmt(t)}</text>
        </g>
      ))}
      <text x={midX - 3} y={c.ageBaseline} textAnchor="middle" fontFamily={SERIF} fontSize={16} fill="#111">Age</text>
      {c.lines.map((s, i) => (
        <text key={'yl' + i} transform={`translate(${c.lineX[i]},${c.labelCy}) rotate(-90)`} textAnchor="middle"
          fontFamily={SERIF} fontSize={15.7} fill="#111">{s}</text>
      ))}
    </g>
  );
}

const legendItems = [
  { label: 'Regular drinker', color: BLUE_PT },
  { label: 'Minimal drinker', color: GRAY_PT },
];

export default function App() {
  return (
    <svg width={750} height={554} style={{ position: 'absolute', left: 0, top: 0, background: '#fff' }}>
      <rect x={0} y={0} width={750} height={554} fill="#fff" />
      {panels.map((c, i) => <Panel key={i} c={c} />)}
      <g>
        <rect x={557} y={0.5} width={171} height={44.5} fill="#fff" stroke="#333" strokeWidth={1} />
        {legendItems.map((d, i) => (
          <g key={d.label}>
            <circle cx={568.5} cy={14 + i * 20.5} r={6} fill={d.color} />
            <text x={583} y={20.5 + i * 20.5} fontFamily={SERIF} fontSize={20.5} fill="#111">{d.label}</text>
          </g>
        ))}
      </g>
    </svg>
  );
}
